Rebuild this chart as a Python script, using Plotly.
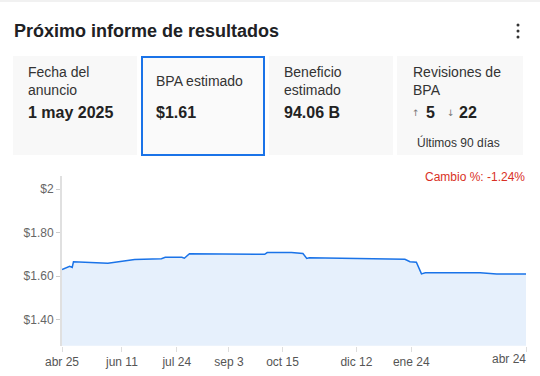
import plotly.graph_objects as go

W, H = 540, 376

# ---- data ----
dates = ["2024-04-25", "2024-04-28", "2024-05-01", "2024-05-03", "2024-05-04",
         "2024-05-31", "2024-06-09", "2024-06-21", "2024-07-12", "2024-07-15",
         "2024-07-28", "2024-07-30", "2024-08-03", "2024-10-01", "2024-10-03",
         "2024-10-22", "2024-10-31", "2024-11-03", "2024-11-05", "2024-12-12",
         "2025-01-15", "2025-01-19", "2025-01-23", "2025-01-28", "2025-02-01",
         "2025-02-04", "2025-03-19", "2025-04-01", "2025-04-24"]
eps = [1.630, 1.638, 1.645, 1.640, 1.666,
       1.659, 1.666, 1.676, 1.680, 1.686,
       1.686, 1.682, 1.703, 1.700, 1.708,
       1.708, 1.704, 1.681, 1.684, 1.682,
       1.680, 1.677, 1.666, 1.664, 1.610,
       1.615, 1.615, 1.610, 1.610]

x_tick_vals = ["2024-04-25", "2024-06-11", "2024-07-24", "2024-09-03", "2024-10-15",
               "2024-12-12", "2025-01-24", "2025-04-24"]
x_tick_text = ["abr 25", "jun 11", "jul 24", "sep 3", "oct 15", "dic 12", "ene 24", "abr 24"]
y_tick_vals = [1.4, 1.6, 1.8, 2.0]
y_tick_text = ["$1.40", "$1.60", "$1.80", "$2"]

card_labels = ["Fecha del<br>anuncio", "BPA estimado", "Beneficio<br>estimado", "Revisiones de<br>BPA"]
card_values = ["1 may 2025", "$1.61", "94.06 B", ""]
revisions_up = "5"
revisions_down = "22"
revisions_note = "Últimos 90 días"
title = "Próximo informe de resultados"
change_text = "Cambio %: -1.24%"

FONT = "Liberation Sans, Arial, sans-serif"

def px(x):
    return x / W

def py(y):
    return 1 - y / H

fig = go.Figure()
fig.add_trace(go.Scatter(
    x=dates, y=eps, mode="lines", fill="tozeroy",
    line=dict(color="#1a73e8", width=1.5),
    fillcolor="rgba(26,115,232,0.11)", hoverinfo="skip", showlegend=False))

shapes = []
annotations = []

# top strip
shapes.append(dict(type="rect", xref="paper", yref="paper", x0=0, x1=1, y0=py(2), y1=1,
                   fillcolor="#f1f1f1", line=dict(width=0), layer="below"))

# cards
card_x = [(13, 137), (141, 265), (269, 393), (397, 523)]
for i, (x0, x1) in enumerate(card_x):
    if i == 1:
        shapes.append(dict(type="rect", xref="paper", yref="paper",
                           x0=px(x0 + 1), x1=px(x1 - 1), y0=py(155), y1=py(57),
                           fillcolor="#fafafa", line=dict(color="#1a73e8", width=2), layer="below"))
    else:
        shapes.append(dict(type="rect", xref="paper", yref="paper",
                           x0=px(x0), x1=px(x1), y0=py(155), y1=py(56),
                           fillcolor="#f8f8f8", line=dict(width=0), layer="below"))

# title
annotations.append(dict(text="<b>" + title + "</b>", xref="paper", yref="paper",
                        x=px(12), y=py(31), xanchor="left", yanchor="middle", showarrow=False,
                        font=dict(family=FONT, size=18, color="#202124")))
# kebab dots
for yy in (25, 31, 37):
    shapes.append(dict(type="circle", xref="paper", yref="paper",
                       x0=px(516.5), x1=px(519.5), y0=py(yy + 1.5), y1=py(yy - 1.5),
                       fillcolor="#333", line=dict(width=0)))

# card texts
label_x = [26, 154, 282, 411]
for i, lab in enumerate(card_labels):
    annotations.append(dict(text=lab, xref="paper", yref="paper",
                            x=px(label_x[i]), y=py(81), xanchor="left", yanchor="middle",
                            align="left", showarrow=False,
                            font=dict(family=FONT, size=14, color="#333")))
    if card_values[i]:
        annotations.append(dict(text="<b>" + card_values[i] + "</b>", xref="paper", yref="paper",
                                x=px(label_x[i]), y=py(113), xanchor="left", yanchor="middle",
                                showarrow=False, font=dict(family=FONT, size=16, color="#222")))

# revisions
annotations.append(dict(text="↑", xref="paper", yref="paper", x=px(410), y=py(113),
                        xanchor="left", yanchor="middle", showarrow=False,
                        font=dict(family="DejaVu Sans", size=9, color="#777")))
annotations.append(dict(text="<b>" + revisions_up + "</b>", xref="paper", yref="paper", x=px(424), y=py(113),
                        xanchor="left", yanchor="middle", showarrow=False,
                        font=dict(family=FONT, size=16, color="#222")))
annotations.append(dict(text="↓", xref="paper", yref="paper", x=px(445), y=py(113),
                        xanchor="left", yanchor="middle", showarrow=False,
                        font=dict(family="DejaVu Sans", size=9, color="#777")))
annotations.append(dict(text="<b>" + revisions_down + "</b>", xref="paper", yref="paper", x=px(457), y=py(113),
                        xanchor="left", yanchor="middle", showarrow=False,
                        font=dict(family=FONT, size=16, color="#222")))
annotations.append(dict(text=revisions_note, xref="paper", yref="paper", x=px(415), y=py(142),
                        xanchor="left", yanchor="middle", showarrow=False,
                        font=dict(family=FONT, size=12, color="#333")))

# change text
annotations.append(dict(text=change_text, xref="paper", yref="paper", x=px(527), y=py(177),
                        xanchor="right", yanchor="middle", showarrow=False,
                        font=dict(family=FONT, size=12, color="#d93025")))

# last x tick label sits right-aligned to its tick (it would overflow the page if centred)
shown_tick_text = x_tick_text[:-1] + [""]
annotations.append(dict(text=x_tick_text[-1], xref="x", yref="paper", x=x_tick_vals[-1], y=py(359),
                        xanchor="right", yanchor="middle", showarrow=False, xshift=2,
                        font=dict(family=FONT, size=12, color="#555")))

fig.update_layout(
    width=W, height=H, margin=dict(l=0, r=0, t=0, b=0, autoexpand=False),
    paper_bgcolor="white", plot_bgcolor="white",
    shapes=shapes, annotations=annotations,
    xaxis=dict(domain=[px(62), px(526)], range=["2024-04-25", "2025-04-24"], automargin=False,
               tickvals=x_tick_vals, ticktext=shown_tick_text, ticks="outside", ticklen=5,
               tickcolor="#dddddd", tickwidth=1, showgrid=False, showline=False, zeroline=False,
               tickfont=dict(family=FONT, size=12, color="#555")),
    yaxis=dict(domain=[py(345.7), py(176)], range=[1.28, 2.06], automargin=False,
               tickvals=y_tick_vals, ticktext=y_tick_text, ticks="outside", ticklen=4,
               tickcolor="#cccccc", showgrid=False, zeroline=False,
               showline=True, linecolor="#e0e0e0", linewidth=2,
               tickfont=dict(family=FONT, size=12, color="#666")),
)

fig.write_html("out.html", config={"displayModeBar": False},
               post_script="document.body.style.margin='0';")
